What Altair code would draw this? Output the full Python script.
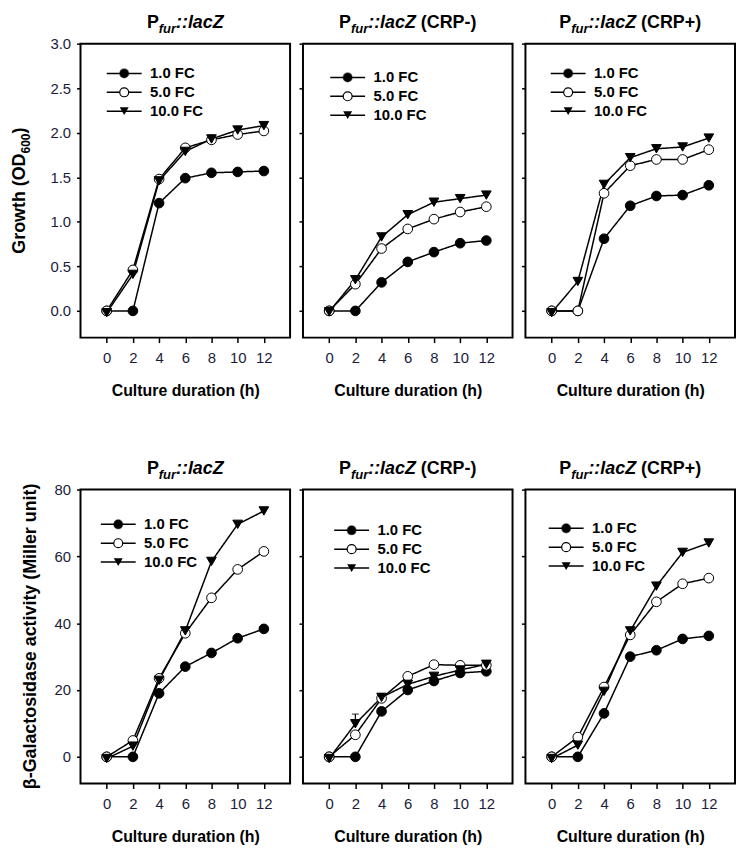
import altair as alt
import pandas as pd

hours = [0, 2, 4, 6, 8, 10, 12]
series_names = ["1.0 FC", "5.0 FC", "10.0 FC"]
conditions = ["", "(CRP-)", "(CRP+)"]

# Growth (OD600)
growth_fur_1 = [0, 0, 1.21, 1.49, 1.55, 1.56, 1.57]
growth_fur_5 = [0, 0.46, 1.48, 1.83, 1.92, 1.98, 2.02]
growth_fur_10 = [-0.02, 0.41, 1.46, 1.79, 1.93, 2.03, 2.08]

growth_crpm_1 = [0, 0, 0.32, 0.55, 0.66, 0.76, 0.79]
growth_crpm_5 = [0, 0.30, 0.70, 0.92, 1.03, 1.11, 1.17]
growth_crpm_10 = [-0.01, 0.35, 0.83, 1.08, 1.22, 1.26, 1.30]

growth_crpp_1 = [0, 0, 0.81, 1.18, 1.29, 1.30, 1.41]
growth_crpp_5 = [0, 0, 1.32, 1.63, 1.70, 1.70, 1.81]
growth_crpp_10 = [-0.02, 0.33, 1.42, 1.72, 1.82, 1.84, 1.94]

# beta-galactosidase activity (Miller unit)
gal_fur_1 = [0, 0, 19.0, 27.0, 31.1, 35.5, 38.3]
gal_fur_5 = [0, 4.9, 23.5, 37.0, 47.6, 56.1, 61.5]
gal_fur_10 = [-0.5, 3.2, 22.9, 37.7, 58.5, 69.6, 73.6]

gal_crpm_1 = [0, 0, 13.6, 20.0, 22.7, 25.1, 25.6]
gal_crpm_5 = [0, 6.6, 17.5, 24.1, 27.6, 27.4, 27.4]
gal_crpm_10 = [-0.5, 9.9, 17.8, 21.7, 24.1, 26.0, 27.7]
gal_crpm_10_err = [0, 2.9, 0, 0, 0, 0, 0]

gal_crpp_1 = [0, 0, 13.0, 30.0, 31.9, 35.3, 36.2]
gal_crpp_5 = [0, 5.9, 20.9, 36.5, 46.4, 51.8, 53.5]
gal_crpp_10 = [-0.5, 3.5, 19.6, 37.7, 51.1, 61.2, 64.0]

growth_ticks = [0, 0.5, 1.0, 1.5, 2.0, 2.5, 3.0]
gal_ticks = [0, 20, 40, 60, 80]

growth_title = [("Growth (OD", 18, 0), ("600", 12, 6.5), (")", 18, 0)]
gal_title = [("\u03b2-Galactosidase activity (Miller unit)", 18, 0)]

FONT = "Liberation Sans"
W, H = 211, 296

CW = {'P': .667, 'f': .333, 'u': .611, 'r': .389, ':': .333, 'l': .278, 'a': .556,
      'c': .556, 'Z': .611, ' ': .278, '(': .333, 'C': .722, 'R': .722, '-': .333,
      '+': .584, ')': .333, 'G': .778, 'o': .611, 'w': .778, 't': .333, 'h': .611,
      'O': .778, 'D': .722, '6': .556, '0': .556, '\u03b2': .572, 's': .556, 'i': .278,
      'd': .611, 'e': .556, 'v': .556, 'y': .556, 'M': .833, 'n': .611}


def tw(s, fs):
    return sum(CW.get(c, .6) for c in s) * fs


def make_df(s1, s5, s10, err10=None):
    rows = []
    for name, vals in zip(series_names, [s1, s5, s10]):
        for i, (t, v) in enumerate(zip(hours, vals)):
            e = err10[i] if (err10 is not None and name == "10.0 FC") else 0
            rows.append({"t": t, "v": v, "s": name, "e": e})
    return pd.DataFrame(rows)


# legend symbol paths (unit coords, scaled by sqrt(size)/2)
P_LINE = "M-3.9,0H3.9"
P_RING = "M1,0A1,1 0 1,1 -1,0A1,1 0 1,1 1,0Z"


def text_part(text, fs, style, x, y, dx=0, dy=0, angle=0, baseline="alphabetic"):
    kw = dict(align="left", baseline=baseline, font=FONT, fontSize=fs, fontStyle=style,
              fontWeight="bold", color="black", dx=dx, dy=dy)
    if angle:
        kw["angle"] = angle
    return (alt.Chart(pd.DataFrame({"label": [text]}))
            .mark_text(**kw)
            .encode(x=alt.value(x), y=alt.value(y), text="label:N"))


def title_layers(cond, yb):
    parts = [("P", 18, "normal", 0, 0), ("fur", 13, "italic", 5, 0), ("::lacZ", 18, "italic", 0, 0)]
    if cond:
        parts.append((cond, 18, "normal", 0, tw(" ", 18)))
    total = sum(tw(p[0], p[1]) + p[4] for p in parts)
    x0 = W / 2 - total / 2
    layers = []
    for text, fs, style, dy, gap in parts:
        x0 += gap
        layers.append(text_part(text, fs, style, x0, yb + dy))
        x0 += tw(text, fs)
    return layers


def ytitle_layers(parts, xc):
    total = sum(tw(p[0], p[1]) for p in parts)
    d = -total / 2
    layers = []
    for text, fs, sub in parts:
        layers.append(text_part(text, fs, "normal", xc, H / 2, dx=d, dy=sub, angle=270,
                                baseline="middle"))
        d += tw(text, fs)
    return layers


def panel(df, ydom, yvals, yfmt, first, ytitle, ytx, leg_xy, cond):
    base = alt.Chart(df)
    x = alt.X("t:Q", scale=alt.Scale(domain=[-2, 14], nice=False, zero=False),
              axis=alt.Axis(values=hours, format="d", title="Culture duration (h)",
                            tickSize=5, labelPadding=8, titlePadding=17))
    yaxis = alt.Axis(values=yvals, format=yfmt, title=None, labels=first,
                     tickSize=4, labelPadding=6)
    y = alt.Y("v:Q", scale=alt.Scale(domain=ydom, nice=False, zero=False), axis=yaxis)

    lx, ly = leg_xy
    common = dict(orient="none", legendX=lx - 6.5, legendY=ly - 7.5, title=None, padding=0,
                  labelFont=FONT, labelFontSize=15, labelFontWeight="bold",
                  labelColor="black", rowPadding=3, labelOffset=18.5, symbolSize=81)

    # line part of the legend (no label text, drawn underneath)
    line_legend = alt.Legend(labelExpr="''", labelOpacity=0, symbolType=P_LINE,
                             symbolStrokeColor="black", symbolStrokeWidth=1.5, zindex=0, **common)
    lines = base.transform_calculate(s2="datum.s + ' '").mark_line(
        color="black", strokeWidth=1.5).encode(
        x=x, y=y,
        strokeDash=alt.StrokeDash("s2:N", scale=alt.Scale(domain=[n + " " for n in series_names],
                                                          range=[[1, 0], [1, 0], [1, 0]]),
                                  legend=line_legend))
    layers = [lines]

    # outline of the open-circle legend symbol (only the 5.0 FC entry is visible)
    ring_legend = alt.Legend(labelExpr="''", labelOpacity=0, symbolType=P_RING,
                             symbolStrokeColor="black", symbolStrokeWidth=1.2, zindex=2, **common)
    ring = base.transform_filter("false").transform_calculate(s3="datum.s + '  '").mark_line(
        color="black", strokeWidth=1.2).encode(
        x=x, y=y,
        opacity=alt.Opacity("s3:N", scale=alt.Scale(domain=[n + "  " for n in series_names],
                                                    range=[0, 1, 0]),
                            legend=ring_legend))
    layers.append(ring)

    if df["e"].max() > 0:
        eb = base.transform_filter("datum.e > 0").transform_calculate(hi="datum.v + datum.e")
        layers.append(eb.mark_rule(color="black", strokeWidth=1.2).encode(x=x, y=y, y2="hi:Q"))
        layers.append(eb.mark_tick(color="black", orient="horizontal", size=7, thickness=1.2)
                      .encode(x=x, y=alt.Y("hi:Q")))

    # marker part of the legend, with labels
    mark_legend = alt.Legend(symbolStrokeColor="black", symbolStrokeWidth=1.2,
                             symbolOpacity=1, zindex=1, **common)
    pts = base.mark_point(filled=False, color="black", size=95, strokeWidth=1, opacity=1).encode(
        x=x, y=y,
        shape=alt.Shape("s:N", scale=alt.Scale(domain=series_names,
                                               range=["circle", "circle", "triangle-down"]),
                        legend=mark_legend),
        fill=alt.Fill("s:N", scale=alt.Scale(domain=series_names,
                                             range=["black", "white", "black"]),
                      legend=mark_legend),
    )
    layers.append(pts)
    layers += title_layers(cond, -16)
    if first:
        layers += ytitle_layers(ytitle, ytx)

    return alt.layer(*layers).properties(width=W, height=H)


top_dfs = [make_df(growth_fur_1, growth_fur_5, growth_fur_10),
           make_df(growth_crpm_1, growth_crpm_5, growth_crpm_10),
           make_df(growth_crpp_1, growth_crpp_5, growth_crpp_10)]
bot_dfs = [make_df(gal_fur_1, gal_fur_5, gal_fur_10),
           make_df(gal_crpm_1, gal_crpm_5, gal_crpm_10, gal_crpm_10_err),
           make_df(gal_crpp_1, gal_crpp_5, gal_crpp_10)]

top_leg = [(43, 30), (44, 34), (42, 30)]
bot_leg = [(37, 35), (48, 41), (40, 39)]

indep = dict(shape="independent", fill="independent", strokeDash="independent",
             opacity="independent")

top_row = alt.hconcat(*[
    panel(top_dfs[i], [-0.3, 3.0], growth_ticks, ".1f", i == 0, growth_title, -61,
          top_leg[i], conditions[i]) for i in range(3)
], spacing=13, bounds="flush").resolve_scale(**indep).resolve_legend(**indep)

bot_row = alt.hconcat(*[
    panel(bot_dfs[i], [-8, 80], gal_ticks, "d", i == 0, gal_title, -50,
          bot_leg[i], conditions[i]) for i in range(3)
], spacing=13, bounds="flush").resolve_scale(**indep).resolve_legend(**indep)

chart = alt.vconcat(top_row, bot_row, spacing=H + 153, bounds="flush").resolve_scale(
    **indep).resolve_legend(**indep).properties(
    padding={"left": 2, "top": 2, "right": 0, "bottom": 0}
).configure_axis(
    labelFont=FONT, labelFontSize=15, labelColor="#1c1c3a",
    titleFont=FONT, titleFontSize=16, titleFontWeight="bold", titleColor="black",
    tickColor="black", tickWidth=1.5, domain=False, grid=False,
).configure_view(stroke="black", strokeWidth=2)

chart.save("out.html", embed_options={"renderer": "svg", "actions": False})
